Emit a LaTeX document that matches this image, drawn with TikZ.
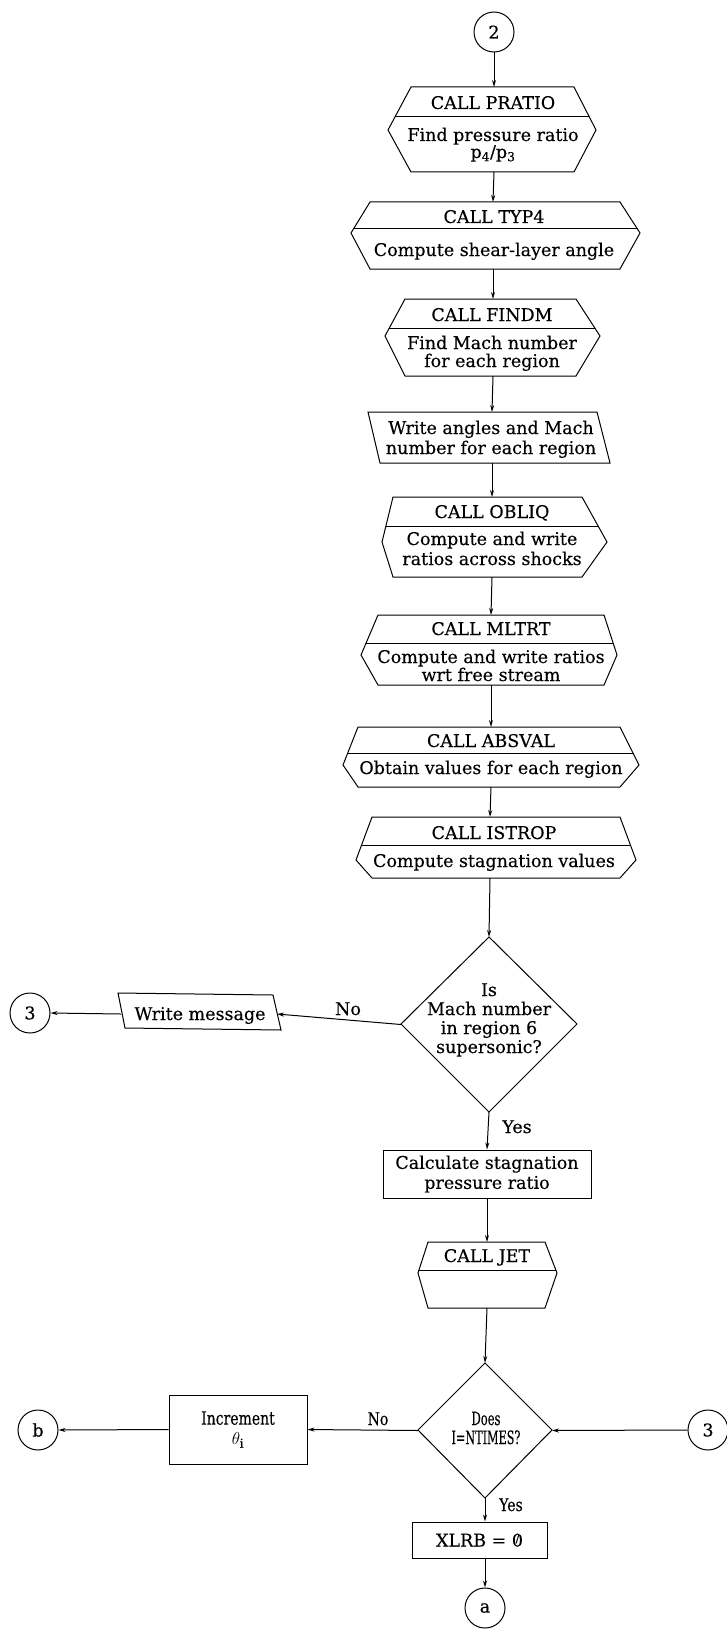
\documentclass[tikz,border=0pt]{standalone}
\usepackage{fontspec}
\usepackage{graphicx}
\setmainfont[FakeBold=0.3]{DejaVu Serif}
\usetikzlibrary{arrows.meta}

% Outline of a CALL block: hexagon with a horizontal divider line.
% #1 top y, #2 bottom y, #3 top-left x, #4 top-right x, #5 side vertex y,
% #6 left vertex x, #7 right vertex x, #8 divider y
\newcommand\callshape[8]{%
  \begin{scope}
    \draw[clip] (#3,#1) -- (#4,#1) -- (#7,#5) -- (#4,#2) -- (#3,#2) -- (#6,#5) -- cycle;
    \draw (0,#8) -- (727,#8);
  \end{scope}}

\begin{document}
\begin{tikzpicture}[x=1pt,y=-1pt,line width=1pt,
  every node/.style={font=\fontsize{17.5}{20}\selectfont},
  hold/.style={inner sep=0pt,outer sep=0pt,draw=none,minimum width=20pt},
  conn/.style={circle,draw,minimum size=40pt,inner sep=0pt},
  txt/.style={anchor=base,inner sep=0pt},
  box/.style={draw,align=center,inner sep=0pt},
  arr/.style={-{Stealth[length=7pt,width=4pt]}}]
\useasboundingbox (0,0) rectangle (727,1629);

% ---- connector 2 and PRATIO
\node[conn] (c2) at (494,32) {2};
\node[hold,minimum height=85pt] (pratio) at (494,129.5) {};
\callshape{87}{172}{411}{574}{130}{388}{596}{117}
\node[txt] (pratioA) at (493,109) {CALL PRATIO};
\node[txt] (pratioB) at (493,141) {Find pressure ratio};
\node[txt] (pratioC) at (493,158) {p\textsubscript{4}/p\textsubscript{3}};

% ---- TYP4
\node[hold,minimum height=67pt] (typ4) at (493,235.5) {};
\callshape{202}{269}{370}{620}{233}{351}{640}{229}
\node[txt] (typ4A) at (494,223) {CALL TYP4};
\node[txt] (typ4B) at (494,256) {Compute shear-layer angle};

% ---- FINDM
\node[hold,minimum height=77pt] (findm) at (493,337.5) {};
\callshape{299}{376}{405}{576}{336}{385}{600}{328}
\node[txt] (findmA) at (492,321) {CALL FINDM};
\node[txt] (findmB) at (492,349) {Find Mach number};
\node[txt] (findmC) at (492,367) {for each region};

% ---- output of angles
\node[hold,minimum height=51pt] (wang) at (492,437.5) {};
\draw (368,412) -- (597,412) -- (610,463) -- (380,463) -- cycle;
\node[txt] (wangA) at (491,434) {Write angles and Mach};
\node[txt] (wangB) at (491,454) {number for each region};

% ---- OBLIQ
\node[hold,minimum height=80pt] (obliq) at (492,537) {};
\callshape{497}{577}{393}{582}{542}{382}{607}{526}
\node[txt] (obliqA) at (492,518) {CALL OBLIQ};
\node[txt] (obliqB) at (492,545) {Compute and write};
\node[txt] (obliqC) at (492,565) {ratios across shocks};

% ---- MLTRT
\node[hold,minimum height=70pt] (mltrt) at (491,650) {};
\callshape{615}{685}{378}{604}{655}{361}{617}{643}
\node[txt] (mltrtA) at (491,635) {CALL MLTRT};
\node[txt] (mltrtB) at (491,663) {Compute and write ratios};
\node[txt] (mltrtC) at (491,681) {wrt free stream};

% ---- ABSVAL
\node[hold,minimum height=60pt] (absval) at (491,757) {};
\callshape{727}{787}{358}{620}{765}{343}{639}{753}
\node[txt] (absvalA) at (491,747) {CALL ABSVAL};
\node[txt] (absvalB) at (491,774) {Obtain values for each region};

% ---- ISTROP
\node[hold,minimum height=61pt] (istrop) at (490,847.5) {};
\callshape{817}{878}{372}{620}{860}{356}{636}{845}
\node[txt] (istropA) at (494,839) {CALL ISTROP};
\node[txt] (istropB) at (494,867) {Compute stagnation values};

% ---- supersonic test
\node[hold,minimum width=176pt,minimum height=175pt] (dia1) at (489,1024.5) {};
\draw (489,937) -- (577,1024) -- (489,1112) -- (401,1024) -- cycle;
\node[txt] (dia1A) at (489,996) {Is};
\node[txt] (dia1B) at (489,1015) {Mach number};
\node[txt] (dia1C) at (489,1034) {in region 6};
\node[txt] (dia1D) at (489,1053) {supersonic?};

% ---- message branch
\node[hold,minimum width=156pt,minimum height=30pt] (msg) at (199,1014) {};
\draw (118,993) -- (273,995) -- (281,1030) -- (125,1028) -- cycle;
\node[txt] (msgA) at (200,1020) {Write message};
\node[conn] (c3a) at (30,1013) {3};
\node[txt] (no1) at (348,1015) {No};

% ---- stagnation pressure ratio
\node[txt] (yes1) at (517,1133) {Yes};
\node[box,minimum width=208pt,minimum height=48pt] (calc) at (487,1174) {Calculate stagnation\\pressure ratio};

% ---- JET
\node[hold,minimum height=66pt] (jet) at (487,1275) {};
\callshape{1242}{1308}{428}{545}{1273}{418}{557}{1270}
\node[txt] (jetA) at (487,1262) {CALL JET};

% ---- loop test
\node[hold,minimum width=134pt,minimum height=135pt] (dia2) at (485,1430.5) {};
\draw (485,1363) -- (552,1430) -- (485,1498) -- (418,1430) -- cycle;
\node[txt] (dia2A) at (486,1425) {\scalebox{0.66}[1.05]{Does}};
\node[txt] (dia2B) at (486,1444) {\scalebox{0.64}[1.05]{I=NTIMES?}};
\node[conn] (c3b) at (708,1430) {3};

\node[box,minimum width=138pt,minimum height=69pt] (inc) at (238,1429.5)
  {\scalebox{0.8}[1.05]{Increment}\\$\theta_{\mathrm{i}}$};
\node[conn] (cb) at (38,1430) {b};
\node[txt] (no2) at (378,1425) {\scalebox{0.8}[1]{No}};

\node[txt] (yes2) at (511,1511) {\scalebox{0.8}[1]{Yes}};
\node[box,minimum width=135pt,minimum height=36pt] (xlrb) at (479.5,1540)
  {XLRB = \ooalign{0\cr\hidewidth\raisebox{0.45ex}{\scalebox{0.6}{/}}\hidewidth}};
\node[conn] (ca) at (485,1608) {a};

% ---- connectors
\draw[arr] (c2.south) -- (pratio.north);
\draw[arr] (pratio.south) -- (typ4.north);
\draw[arr] (typ4.south) -- (findm.north);
\draw[arr] (findm.south) -- (wang.north);
\draw[arr] (wang.south) -- (obliq.north);
\draw[arr] (obliq.south) -- (mltrt.north);
\draw[arr] (mltrt.south) -- (absval.north);
\draw[arr] (absval.south) -- (istrop.north);
\draw[arr] (istrop.south) -- (dia1.north);
\draw[arr] (dia1.west) -- (msg.east);
\draw[arr] (msg.west) -- (c3a.east);
\draw[arr] (dia1.south) -- (calc.north);
\draw[arr] (calc.south) -- (jet.north);
\draw[arr] (jet.south) -- (dia2.north);
\draw[arr] (dia2.west) -- (inc.east);
\draw[arr] (inc.west) -- (cb.east);
\draw[arr] (c3b.west) -- (dia2.east);
\draw[arr] (dia2.south) -- (dia2.south |- xlrb.north);
\draw[arr] (ca.north |- xlrb.south) -- (ca.north);
\end{tikzpicture}
\end{document}
